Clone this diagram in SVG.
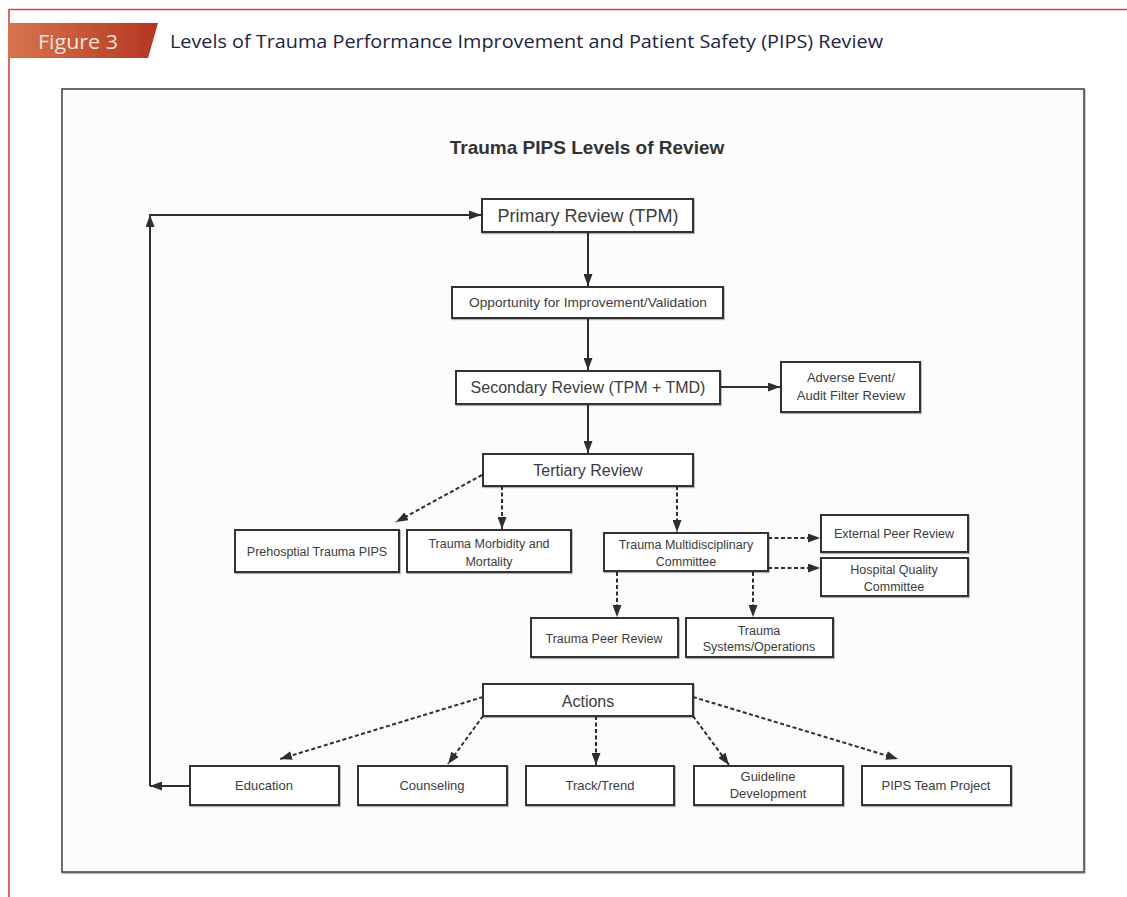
<svg xmlns="http://www.w3.org/2000/svg" width="1127" height="897" viewBox="0 0 1127 897">
<defs>
<linearGradient id="bannerGrad" x1="0" y1="0" x2="1" y2="0">
<stop offset="0" stop-color="#d7744f"/>
<stop offset="1" stop-color="#b5361f"/>
</linearGradient>
<marker id="ah" viewBox="0 0 12 9" refX="12" refY="4.5" markerWidth="12" markerHeight="9" markerUnits="userSpaceOnUse" orient="auto">
<path d="M0,0 L12,4.5 L0,9 z" fill="#2e2e2e"/>
</marker>
<filter id="sh" x="-5%" y="-5%" width="110%" height="120%">
<feDropShadow dx="0.8" dy="1.2" stdDeviation="0.6" flood-color="#000" flood-opacity="0.3"/>
</filter>
</defs>
<style>
.node rect{fill:#ffffff;stroke:#333333;stroke-width:2;filter:url(#sh)}
.t{font-family:"Liberation Sans",Arial,sans-serif;fill:#3c3c3c;text-anchor:middle}
.s11{font-size:13px}
.s12{font-size:12.5px}
.s13{font-size:13px}
.s16{font-size:16px}
.s17{font-size:18px}
.solid{stroke:#2e2e2e;stroke-width:2;fill:none}
.dash{stroke:#2e2e2e;stroke-width:2;fill:none;stroke-dasharray:4 2.5}
</style>
<rect x="0" y="0" width="1127" height="897" fill="#ffffff"/>
<path d="M9,897 L9,9.5 L1127,9.5" fill="none" stroke="#d9443f" stroke-width="1.6"/>
<polygon points="8,23 158,23 148,58 8,58" fill="url(#bannerGrad)"/>
<text x="38" y="49" font-family="'Open Sans','Liberation Sans',sans-serif" font-size="20" fill="#f6e6df" textLength="80" lengthAdjust="spacingAndGlyphs">Figure 3</text>
<text x="170" y="48" font-family="'Open Sans','Liberation Sans',sans-serif" font-size="17.5" fill="#1c2340" textLength="713" lengthAdjust="spacingAndGlyphs">Levels of Trauma Performance Improvement and Patient Safety (PIPS) Review</text>
<rect x="62" y="89" width="1022" height="783" fill="#fcfcfc" stroke="#4a4a4a" stroke-width="1.6" filter="url(#sh)"/>
<text x="587" y="154" font-family="'Liberation Sans',Arial,sans-serif" font-size="19" font-weight="bold" fill="#333333" text-anchor="middle">Trauma PIPS Levels of Review</text>

<g id="connectors">
<line class="solid" x1="588" y1="232" x2="588" y2="286" marker-end="url(#ah)"/>
<line class="solid" x1="588" y1="318" x2="588" y2="370" marker-end="url(#ah)"/>
<line class="solid" x1="588" y1="404" x2="588" y2="453" marker-end="url(#ah)"/>
<line class="solid" x1="720" y1="387" x2="780" y2="387" marker-end="url(#ah)"/>
<line class="dash" x1="482" y1="475" x2="396" y2="522" marker-end="url(#ah)"/>
<line class="dash" x1="502" y1="486" x2="502" y2="529" marker-end="url(#ah)"/>
<line class="dash" x1="677" y1="486" x2="677" y2="532" marker-end="url(#ah)"/>
<line class="dash" x1="768" y1="538" x2="820" y2="538" marker-end="url(#ah)"/>
<line class="dash" x1="768" y1="568" x2="820" y2="568" marker-end="url(#ah)"/>
<line class="dash" x1="617" y1="572" x2="617" y2="617" marker-end="url(#ah)"/>
<line class="dash" x1="753" y1="572" x2="753" y2="617" marker-end="url(#ah)"/>
<line class="dash" x1="483" y1="697" x2="280" y2="759" marker-end="url(#ah)"/>
<line class="dash" x1="483" y1="716" x2="448" y2="764" marker-end="url(#ah)"/>
<line class="dash" x1="596" y1="716" x2="596" y2="765" marker-end="url(#ah)"/>
<line class="dash" x1="693" y1="716" x2="729" y2="765" marker-end="url(#ah)"/>
<line class="dash" x1="693" y1="697" x2="898" y2="759" marker-end="url(#ah)"/>
<line class="solid" x1="190" y1="786" x2="150" y2="786" marker-end="url(#ah)"/>
<line class="solid" x1="150" y1="786" x2="150" y2="215" marker-end="url(#ah)"/>
<line class="solid" x1="149" y1="215" x2="481" y2="215" marker-end="url(#ah)"/>
</g>

<g id="primary" class="node"><rect x="482" y="199" width="211" height="33"/><text class="t s17" x="588" y="222">Primary Review (TPM)</text></g>
<g id="opportunity" class="node"><rect x="452" y="287" width="271" height="31"/><text class="t s11" x="588" y="307" textLength="238" lengthAdjust="spacingAndGlyphs">Opportunity for Improvement/Validation</text></g>
<g id="secondary" class="node"><rect x="456" y="371" width="264" height="33"/><text class="t s16" x="588" y="393">Secondary Review (TPM + TMD)</text></g>
<g id="adverse" class="node"><rect x="781" y="362" width="139" height="50"/><text class="t s13" x="851" y="382">Adverse Event/</text><text class="t s13" x="851" y="400">Audit Filter Review</text></g>
<g id="tertiary" class="node"><rect x="483" y="454" width="210" height="32"/><text class="t s16" x="588" y="476">Tertiary Review</text></g>
<g id="prehospital" class="node"><rect x="235" y="530" width="164" height="42"/><text class="t s12" x="317" y="556">Prehosptial Trauma PIPS</text></g>
<g id="morbidity" class="node"><rect x="407" y="530" width="164" height="42"/><text class="t s12" x="489" y="548">Trauma Morbidity and</text><text class="t s12" x="489" y="566">Mortality</text></g>
<g id="committee" class="node"><rect x="604" y="533" width="164" height="38"/><text class="t s12" x="686" y="549">Trauma Multidisciplinary</text><text class="t s12" x="686" y="566">Committee</text></g>
<g id="external" class="node"><rect x="821" y="515" width="147" height="37"/><text class="t s12" x="894" y="538">External Peer Review</text></g>
<g id="hospital" class="node"><rect x="821" y="558" width="147" height="38"/><text class="t s12" x="894" y="574">Hospital Quality</text><text class="t s12" x="894" y="591">Committee</text></g>
<g id="peer" class="node"><rect x="531" y="618" width="147" height="39"/><text class="t s12" x="604" y="643">Trauma Peer Review</text></g>
<g id="systems" class="node"><rect x="686" y="618" width="147" height="39"/><text class="t s12" x="759" y="635">Trauma</text><text class="t s12" x="759" y="651">Systems/Operations</text></g>
<g id="actions" class="node"><rect x="483" y="684" width="210" height="32"/><text class="t s16" x="588" y="707">Actions</text></g>
<g id="education" class="node"><rect x="190" y="766" width="149" height="39"/><text class="t s13" x="264" y="790">Education</text></g>
<g id="counseling" class="node"><rect x="358" y="766" width="149" height="39"/><text class="t s13" x="432" y="790">Counseling</text></g>
<g id="track" class="node"><rect x="526" y="766" width="148" height="39"/><text class="t s13" x="600" y="790">Track/Trend</text></g>
<g id="guideline" class="node"><rect x="694" y="766" width="149" height="39"/><text class="t s13" x="768" y="781">Guideline</text><text class="t s13" x="768" y="798">Development</text></g>
<g id="pips" class="node"><rect x="862" y="766" width="149" height="39"/><text class="t s13" x="936" y="790">PIPS Team Project</text></g>
</svg>
